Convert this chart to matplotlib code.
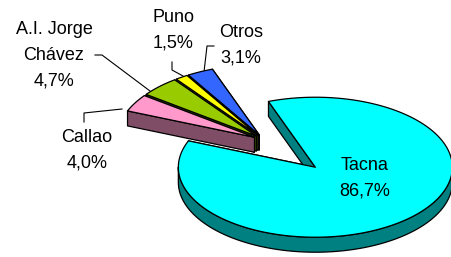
import numpy as np
import matplotlib
matplotlib.use("Agg")
import matplotlib.pyplot as plt
from matplotlib.patches import Polygon

# datos del grafico
labels = ["Tacna", "Callao", "A.I. Jorge\nChávez", "Puno", "Otros"]
values = [86.7, 4.0, 4.7, 1.5, 3.1]
top_colors = ["#00FFFF", "#FF99CC", "#99CC00", "#FFFF00", "#3366FF"]
side_colors = ["#008080", "#804D66", "#4D6600", "#808000", "#1A3380"]
explode = [0.54, 0.08, 0.08, 0.08, 0.08]

# posicion de las etiquetas y lineas guia (pixeles)
label_pos = [(365, 178), (87, 150), (54, 55), (173, 30), (241, 45)]
leaders = [None,
           [(84, 122), (84, 113), (122, 109)],
           [(95, 55), (102, 55), (150, 91)],
           [(172, 62), (172, 70), (183, 76)],
           [(214, 46), (207, 46), (204, 72)]]

W, H = 451, 257
CX, CY = 264, 140      # centro del pie
RX, RY = 137, 70       # semiejes de la elipse
DEPTH = 15             # grosor
START = 110            # angulo inicial, sentido horario
FONT = ["Liberation Sans", "DejaVu Sans"]


def point(t, ox, oy, dz=0):
	r = np.radians(t)
	return (CX + ox + RX * np.cos(r), CY + oy - RY * np.sin(r) + dz)


def arc(t1, t2, ox, oy, dz=0):
	n = max(int(abs(t2 - t1) / 2) + 2, 3)
	return [point(t, ox, oy, dz) for t in np.linspace(t1, t2, n)]


# partes de la pared exterior que miran al frente
def front_parts(t1, t2):
	parts = []
	for k in range(-2, 3):
		lo = max(t1, -180 + 360 * k)
		hi = min(t2, 360 * k)
		if lo < hi:
			parts.append((lo, hi))
	return parts


def draw_slice(ax, t1, t2, ox, oy, top, side, z):
	apex = (CX + ox, CY + oy)
	apex_b = (CX + ox, CY + oy + DEPTH)
	kw = dict(edgecolor="black", linewidth=0.9, joinstyle="round")
	# paredes radiales
	for t in (t1, t2):
		wall = [apex, point(t, ox, oy), point(t, ox, oy, DEPTH), apex_b]
		ax.add_patch(Polygon(wall, closed=True, facecolor=side, zorder=z, **kw))
	# pared exterior
	for lo, hi in front_parts(t1, t2):
		pts = arc(lo, hi, ox, oy) + arc(hi, lo, ox, oy, DEPTH)
		ax.add_patch(Polygon(pts, closed=True, facecolor=side, zorder=z + 0.1, **kw))
	# cara superior
	pts = [apex] + arc(t1, t2, ox, oy)
	ax.add_patch(Polygon(pts, closed=True, facecolor=top, zorder=z + 0.2, **kw))


fig = plt.figure(figsize=(W / 100, H / 100), dpi=100)
ax = fig.add_axes([0, 0, 1, 1])
ax.set_xlim(0, W)
ax.set_ylim(H, 0)
ax.axis("off")

# angulos de cada tajada
total = sum(values)
slices = []
acc = 0
for i, v in enumerate(values):
	t2 = START - acc * 360 / total
	t1 = t2 - v * 360 / total
	acc += v
	mid = np.radians((t1 + t2) / 2)
	ox = explode[i] * RX * np.cos(mid)
	oy = -explode[i] * RY * np.sin(mid)
	slices.append((np.sin(mid), i, t1, t2, ox, oy))

# de atras hacia adelante
slices.sort(key=lambda s: -s[0])
for z, (_, i, t1, t2, ox, oy) in enumerate(slices):
	draw_slice(ax, t1, t2, ox, oy, top_colors[i], side_colors[i], 2 + z)

for i in range(len(values)):
	pct = ("%.1f%%" % values[i]).replace(".", ",")
	x, y = label_pos[i]
	ax.text(x, y, labels[i] + "\n" + pct, ha="center", va="center",
	        multialignment="center", fontsize=13, family=FONT,
	        linespacing=1.68, zorder=20)
	if leaders[i]:
		xs = [p[0] for p in leaders[i]]
		ys = [p[1] for p in leaders[i]]
		ax.plot(xs, ys, color="black", linewidth=0.8, zorder=1)

plt.savefig("out.png", dpi=100)
plt.close(fig)
